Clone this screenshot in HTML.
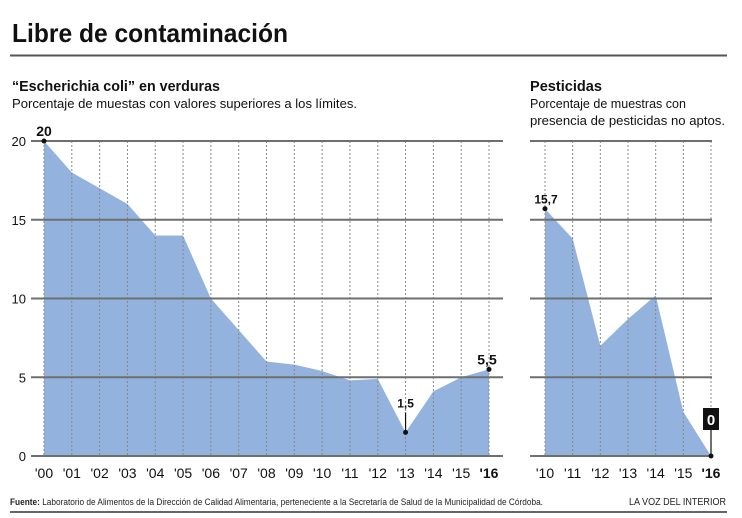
<!DOCTYPE html>
<html><head><meta charset="utf-8"><style>
body{margin:0;background:#fff;}
svg{display:block;font-family:"Liberation Sans",sans-serif;}
</style></head><body>
<svg width="742" height="518" viewBox="0 0 742 518">
<text x="12" y="42" font-size="26" font-weight="bold" textLength="276" lengthAdjust="spacingAndGlyphs" fill="#111">Libre de contaminación</text>
<line x1="10" y1="55.5" x2="727" y2="55.5" stroke="#555" stroke-width="2"/>
<text x="12" y="91" font-size="15" font-weight="bold" textLength="208" lengthAdjust="spacingAndGlyphs" fill="#111">“Escherichia coli” en verduras</text>
<text x="12" y="108" font-size="13" textLength="345" lengthAdjust="spacingAndGlyphs" fill="#111">Porcentaje de muestas con valores superiores a los límites.</text>
<text x="530" y="91" font-size="15" font-weight="bold" textLength="72" lengthAdjust="spacingAndGlyphs" fill="#111">Pesticidas</text>
<text x="530" y="108" font-size="13" textLength="156" lengthAdjust="spacingAndGlyphs" fill="#111">Porcentaje de muestras con</text>
<text x="530" y="125" font-size="13" textLength="195" lengthAdjust="spacingAndGlyphs" fill="#111">presencia de pesticidas no aptos.</text>
<g id="left"></g>
<g id="right"></g>
<text x="10" y="505" font-size="9" textLength="533" lengthAdjust="spacingAndGlyphs" fill="#222"><tspan font-weight="bold">Fuente:</tspan> Laboratorio de Alimentos de la Dirección de Calidad Alimentaria, perteneciente a la Secretaría de Salud de la Municipalidad de Córdoba.</text>
<text x="726" y="505" font-size="10" text-anchor="end" textLength="97" lengthAdjust="spacingAndGlyphs" fill="#222">LA VOZ DEL INTERIOR</text>
<line x1="10" y1="512" x2="727" y2="512" stroke="#333" stroke-width="1.5"/>
</svg>
<script>
const leftYears=["'00","'01","'02","'03","'04","'05","'06","'07","'08","'09","'10","'11","'12","'13","'14","'15","'16"];
const leftValues=[20,18,17,16,14,14,10,8,6,5.8,5.4,4.8,4.9,1.5,4.1,5,5.5];
const rightYears=["'10","'11","'12","'13","'14","'15","'16"];
const rightValues=[15.7,13.8,7,8.7,10.2,2.8,0];
const yTicks=[0,5,10,15,20];
const NS="http://www.w3.org/2000/svg";
function mk(p,tag,a,txt){const e=document.createElementNS(NS,tag);for(const k in a)e.setAttribute(k,a[k]);if(txt!=null)e.textContent=txt;p.appendChild(e);return e;}
const y0=456,y20=141;
function yS(v){return y0-(v/20)*(y0-y20);}
function drawChart(g,cats,vals,x0,x1,gl,gr,showY,labels){
  const n=cats.length;const xS=i=>x0+i*(x1-x0)/(n-1);
  let d="M"+xS(0)+","+yS(0);
  vals.forEach((v,i)=>{d+=" L"+xS(i)+","+yS(v);});
  d+=" L"+xS(n-1)+","+yS(0)+"Z";
  const area=mk(g,"path",{d:d,fill:"#93b3de"});
  
  
  cats.forEach((c,i)=>{
    const l=mk(g,"line",{x1:xS(i),x2:xS(i),y1:y20,y2:y0,stroke:"#888","stroke-width":1,"stroke-dasharray":"2,2"});
    
    
    const t=mk(g,"text",{x:xS(i),y:478,"font-size":14,"text-anchor":"middle",fill:"#111","font-weight":i==n-1?"bold":"normal"},c);
    
    
  });
  yTicks.forEach(v=>{
    const l=mk(g,"line",{x1:gl,x2:gr,y1:yS(v),y2:yS(v),stroke:"#6f6f6f","stroke-width":2});
    
    
    if(showY){
      const t=mk(g,"text",{x:26,y:yS(v)+5,"font-size":13,"text-anchor":"end",fill:"#111"},String(v));
      
      
    }
  });
  labels.forEach(L=>{
    const i=L.i,px=xS(i),py=yS(vals[i]);
    if(L.stem){const s=mk(g,"line",{x1:px,x2:px,y1:py,y2:py-L.stem,stroke:"#111","stroke-width":1.2});
      
      }
    const c=mk(g,"circle",{cx:px,cy:py,r:2.5,fill:"#111"});
    
    
    if(L.box){const b=mk(g,"rect",{x:px-8,y:py-L.stem-22,width:16,height:22,fill:"#111"});
      
      }
    const t=mk(g,"text",{x:px+(L.dx||0),y:py-(L.stem||0)-(L.box?5:5),"font-size":L.fs||13,"font-weight":"bold","text-anchor":"middle",fill:L.box?"#fff":"#111"},String(vals[i]).replace('.',','));
    
    
  });
}
drawChart(document.getElementById('left'),leftYears,leftValues,44,489,31,503,true,
  [{i:0,fs:14},{i:13,stem:20,fs:12},{i:16,fs:14,dx:-2}]);
drawChart(document.getElementById('right'),rightYears,rightValues,545,711,530,712,false,
  [{i:0,fs:12,dx:1},{i:6,stem:26,box:true,fs:15}]);
</script>
</body></html>
